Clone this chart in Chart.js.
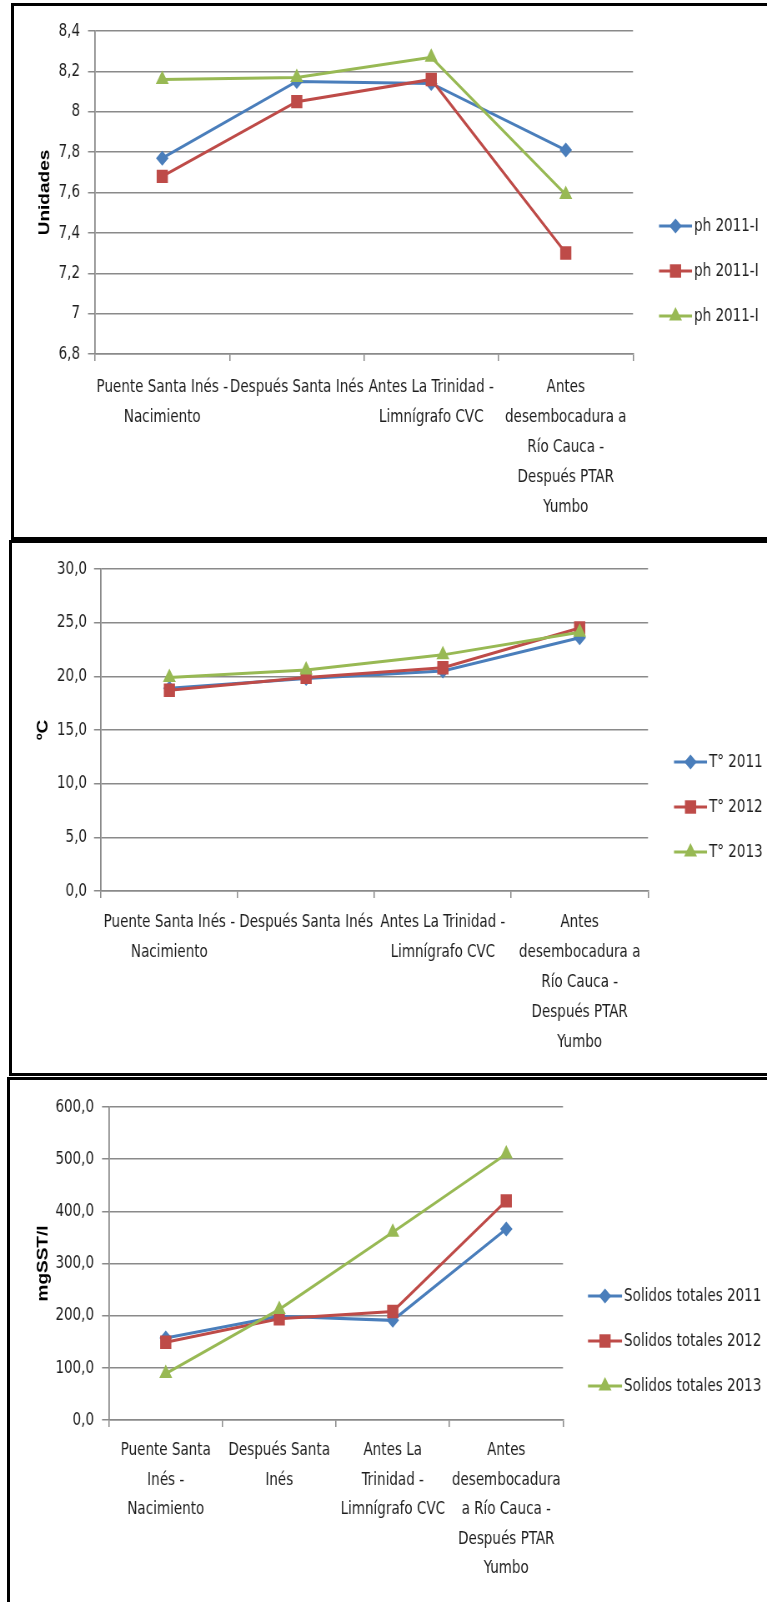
<!DOCTYPE html>
<html lang="es">
<head>
<meta charset="utf-8">
<title>Calidad del agua</title>
<script src="https://cdn.jsdelivr.net/npm/chart.js@4.4.0/dist/chart.umd.min.js"></script>
<style>
  html, body { margin: 0; padding: 0; background: #fff; }
  body { width: 767px; height: 1602px; position: relative; overflow: hidden; }
  .marco { position: absolute; box-sizing: border-box; border: 3px solid #000; width: 820px; background: #fff; }
  canvas { position: absolute; left: 0; }
</style>
</head>
<body>
<div class="marco" style="left:11px; top:3px; height:537px;"></div>
<div class="marco" style="left:9px; top:540px; height:536px;"></div>
<div class="marco" style="left:7px; top:1077px; height:560px;"></div>

<!-- el lienzo se dibuja mas ancho y se comprime en horizontal (letra estrecha como en el original) -->
<canvas id="phChart" width="920" height="538" style="top:0px; width:767px; height:538px;"></canvas>
<canvas id="tempChart" width="920" height="538" style="top:538px; width:767px; height:538px;"></canvas>
<canvas id="solidosChart" width="920" height="526" style="top:1076px; width:767px; height:526px;"></canvas>

<script>
// categorias (estaciones de muestreo)
const estaciones = [
  ["Puente Santa Inés -", "Nacimiento"],
  ["Después Santa Inés"],
  ["Antes La Trinidad -", "Limnígrafo CVC"],
  ["Antes", "desembocadura a", "Río Cauca -", "Después PTAR", "Yumbo"],
];
const estacionesSolidos = [
  ["Puente Santa", "Inés -", "Nacimiento"],
  ["Después Santa", "Inés"],
  ["Antes La", "Trinidad -", "Limnígrafo CVC"],
  ["Antes", "desembocadura", "a Río Cauca -", "Después PTAR", "Yumbo"],
];

// pH
const phNombres = ["ph 2011-I", "ph 2011-I", "ph 2011-I"];
const ph1 = [7.77, 8.15, 8.14, 7.81];
const ph2 = [7.68, 8.05, 8.16, 7.30];
const ph3 = [8.16, 8.17, 8.27, 7.59];
const phMarcas = [6.8, 7.0, 7.2, 7.4, 7.6, 7.8, 8.0, 8.2, 8.4];

// temperatura
const tempNombres = ["T° 2011", "T° 2012", "T° 2013"];
const temp2011 = [18.9, 19.8, 20.5, 23.6];
const temp2012 = [18.7, 19.9, 20.8, 24.5];
const temp2013 = [19.9, 20.6, 22.0, 24.1];
const tempMarcas = [0, 5, 10, 15, 20, 25, 30];

// solidos totales
const solidosNombres = ["Solidos totales 2011", "Solidos totales 2012", "Solidos totales 2013"];
const solidos2011 = [157, 199, 191, 366];
const solidos2012 = [149, 194, 208, 420];
const solidos2013 = [89, 212, 360, 510];
const solidosMarcas = [0, 100, 200, 300, 400, 500, 600];

const colores = ["#4A7EBB", "#BE4B48", "#98B954"];
const marcadores = ["rectRot", "rect", "triangle"];
const radios = [7.5, 9.5, 9];
const gris = "#8a8a8a";
const colorTexto = "#1e1e1e";
const fuente = "'Liberation Sans Narrow', 'DejaVu Sans Condensed', sans-serif";

const ANCHO = 920;
const k = 767 / ANCHO; // compresion horizontal

// pasa una x de la pagina a la x interna del lienzo
function ix(x) {
  return x / k;
}

Chart.defaults.font.family = fuente;

// leyenda al estilo Excel: linea con marcador + texto
const leyendaExcel = {
  id: "leyendaExcel",
  afterDraw: function (chart, args, opts) {
    const ctx = chart.ctx;
    ctx.save();
    chart.data.datasets.forEach(function (ds, i) {
      const y = opts.y + i * opts.paso;
      const x0 = ix(opts.x);
      const x1 = ix(opts.x + opts.largo);
      ctx.strokeStyle = ds.borderColor;
      ctx.lineWidth = ds.borderWidth;
      ctx.beginPath();
      ctx.moveTo(x0, y);
      ctx.lineTo(x1, y);
      ctx.stroke();
      ctx.fillStyle = ds.backgroundColor;
      Chart.helpers.drawPoint(
        ctx,
        { pointStyle: ds.pointStyle, radius: ds.pointRadius, borderWidth: 0, rotation: 0 },
        (x0 + x1) / 2,
        y
      );
      ctx.fillStyle = colorTexto;
      ctx.font = "18px " + fuente;
      ctx.textBaseline = "middle";
      ctx.textAlign = "left";
      ctx.fillText(ds.label, x1 + ix(2), y);
    });
    ctx.restore();
  },
};

function crearGrafico(cfg) {
  const ctx = document.getElementById(cfg.id).getContext("2d");
  const izq = ix(cfg.area.left);
  const der = ix(cfg.area.right);
  return new Chart(ctx, {
    type: "line",
    data: {
      labels: cfg.categorias,
      datasets: cfg.series.map(function (valores, i) {
        return {
          label: cfg.nombres[i],
          data: valores,
          borderColor: colores[i],
          backgroundColor: colores[i],
          borderWidth: 3,
          pointStyle: marcadores[i],
          pointRadius: radios[i],
          pointBorderWidth: 0,
          fill: false,
          tension: 0,
          order: 2 - i,
        };
      }),
    },
    options: {
      responsive: false,
      animation: false,
      events: [],
      layout: {
        padding: { left: 0, top: cfg.area.top, right: ANCHO - der, bottom: 0 },
      },
      plugins: {
        legend: { display: false },
        tooltip: { enabled: false },
        leyendaExcel: cfg.leyenda,
      },
      scales: {
        x: {
          offset: true,
          grid: { drawOnChartArea: false, drawTicks: true, tickLength: 7, color: gris, lineWidth: 1.5, offset: true },
          border: { color: gris, width: 1.5 },
          ticks: {
            color: colorTexto,
            font: { size: 18, lineHeight: cfg.interlineado },
            padding: cfg.padEtiquetas,
            maxRotation: 0,
            minRotation: 0,
            autoSkip: false,
          },
          afterFit: function (scale) {
            scale.height = cfg.alto - cfg.area.bottom;
          },
        },
        y: {
          min: cfg.marcas[0],
          max: cfg.marcas[cfg.marcas.length - 1],
          afterBuildTicks: function (scale) {
            scale.ticks = cfg.marcas.map(function (v) {
              return { value: v };
            });
          },
          grid: { color: gris, lineWidth: 1.5, drawTicks: true, tickLength: ix(7) },
          border: { display: true, color: gris, width: 1.75 },
          ticks: { color: colorTexto, font: { size: 18 }, padding: ix(cfg.padY), callback: cfg.formato },
          title: {
            display: true,
            text: cfg.titulo,
            color: "#000",
            font: { family: "'Liberation Sans', Arial, sans-serif", size: 19, weight: "bold" },
            padding: { top: ix(cfg.tituloX) - 11.4, bottom: 0 },
          },
          afterFit: function (scale) {
            scale.width = izq;
          },
        },
      },
    },
    plugins: [leyendaExcel],
  });
}

function conComa(v) {
  return String(Math.round(v * 10) / 10).replace(".", ",");
}
function unDecimal(v) {
  return v.toFixed(1).replace(".", ",");
}

crearGrafico({
  id: "phChart",
  alto: 538,
  area: { left: 95, top: 31, right: 633, bottom: 354 },
  categorias: estaciones,
  nombres: phNombres,
  series: [ph1, ph2, ph3],
  marcas: phMarcas,
  formato: conComa,
  titulo: "Unidades",
  tituloX: 45,
  padY: 8,
  padEtiquetas: 11,
  interlineado: "30px",
  leyenda: { x: 659, y: 226, paso: 45, largo: 33 },
});

crearGrafico({
  id: "tempChart",
  alto: 538,
  area: { left: 101, top: 31, right: 648, bottom: 353 },
  categorias: estaciones,
  nombres: tempNombres,
  series: [temp2011, temp2012, temp2013],
  marcas: tempMarcas,
  formato: unDecimal,
  titulo: "ºC",
  tituloX: 43,
  padY: 7,
  padEtiquetas: 9,
  interlineado: "30px",
  leyenda: { x: 674, y: 224, paso: 45, largo: 33 },
});

crearGrafico({
  id: "solidosChart",
  alto: 526,
  area: { left: 109, top: 31, right: 563, bottom: 344 },
  categorias: estacionesSolidos,
  nombres: solidosNombres,
  series: [solidos2011, solidos2012, solidos2013],
  marcas: solidosMarcas,
  formato: unDecimal,
  titulo: "mgSST/l",
  tituloX: 43,
  padY: 8,
  padEtiquetas: 9,
  interlineado: "29.5px",
  leyenda: { x: 588, y: 220, paso: 45, largo: 34 },
});
</script>
</body>
</html>
